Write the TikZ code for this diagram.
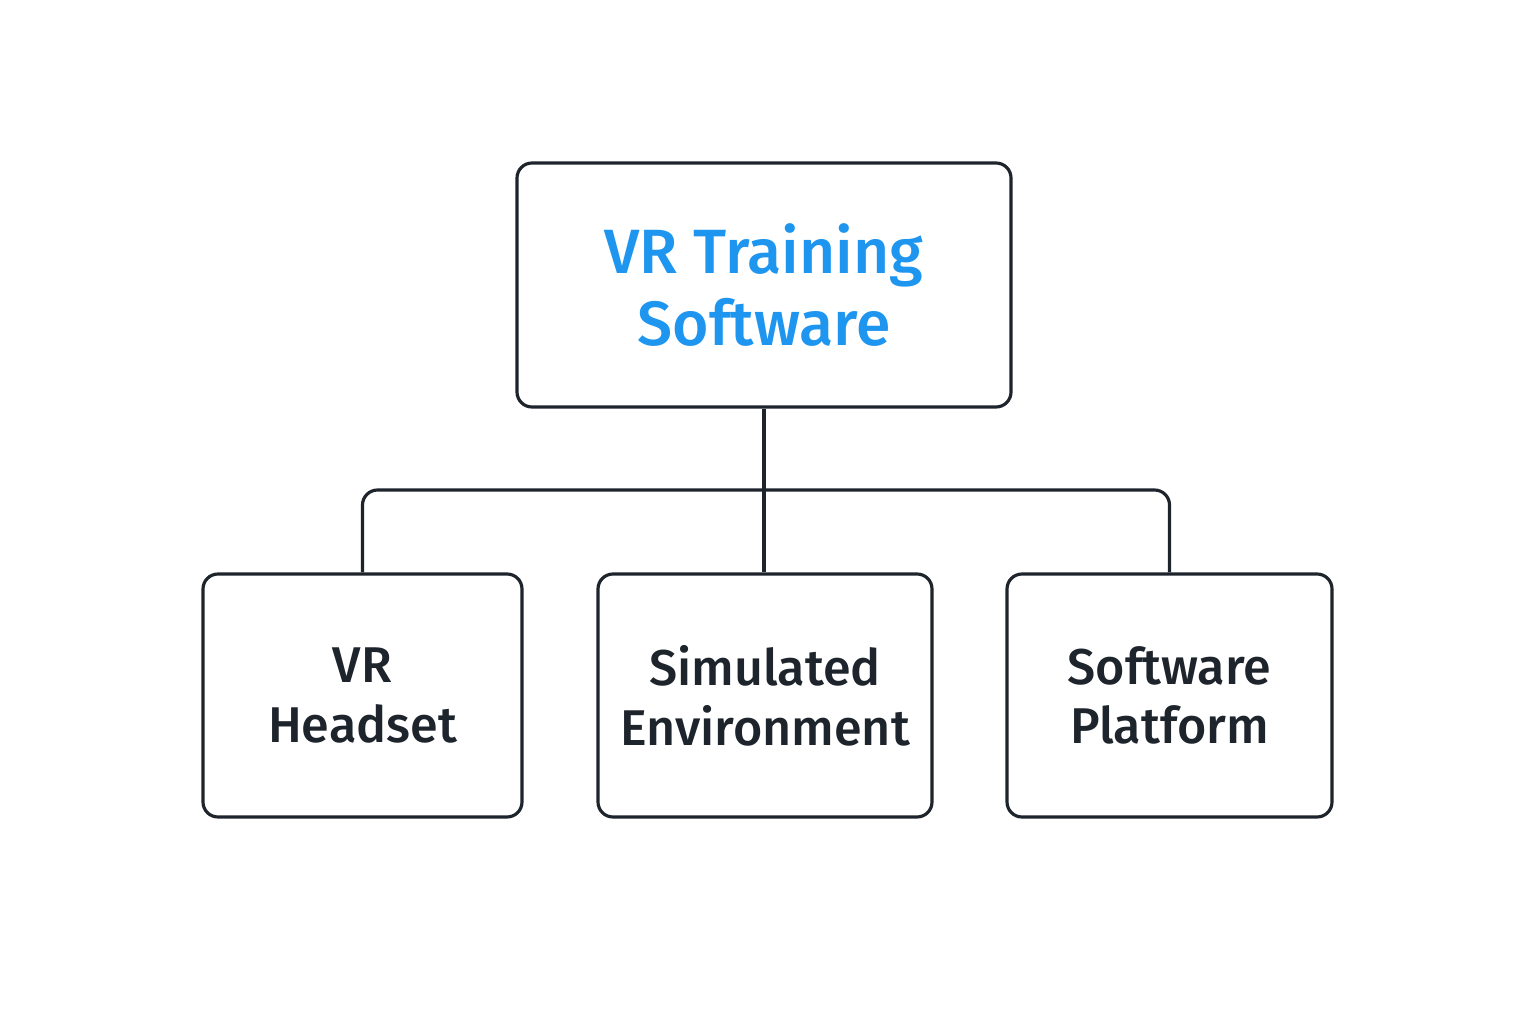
\documentclass[tikz,border=0pt]{standalone}
\usepackage{fontspec}
\setmainfont{Fira Sans}[UprightFont=* Medium]
\definecolor{vrblue}{RGB}{30,150,240}
\definecolor{inkdark}{RGB}{30,36,44}

\begin{document}
\begin{tikzpicture}[
    box/.style={draw=inkdark, line width=0.9pt, rounded corners=0.15cm, fill=white, align=center, inner sep=0pt},
    leaf/.style={box, minimum height=2.43cm, font=\fontsize{14.3}{17}\selectfont, text=inkdark},
    link/.style={draw=inkdark, line width=0.9pt}
]
        \useasboundingbox (0,0) rectangle (15.36,10.24);
        \node[box, minimum width=4.94cm, minimum height=2.44cm, text=vrblue, font=\fontsize{17.8}{20.5}\selectfont] (vrt) at (7.64,7.39) {VR Training\\Software};   % root
        \node[leaf, minimum width=3.19cm] (hs) at (3.625,3.285) {VR\\Headset};
        \node[leaf, minimum width=3.34cm] (se) at (7.65,3.285) {Simulated\\Environment};
        \node[leaf, minimum width=3.25cm] (sp) at (11.695,3.285) {Software\\Platform};
        \coordinate (bar) at (7.64,5.34);

        \draw[link] (vrt.south) -- (vrt.south |- se.north);
        \draw[link, rounded corners=0.15cm] (hs.north) |- (bar) -| (sp.north);   % branch
    \end{tikzpicture}
\end{document}
